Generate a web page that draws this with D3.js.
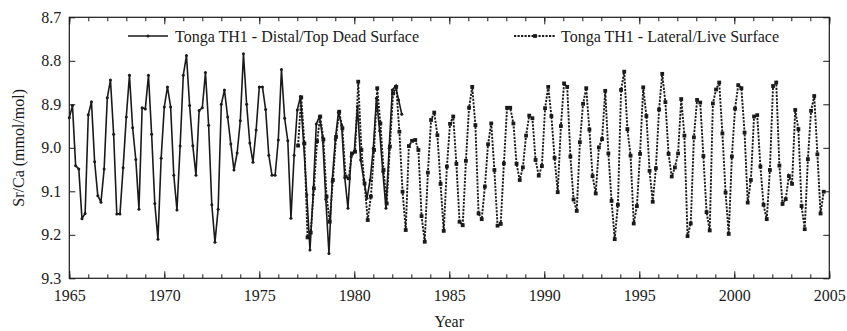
<!DOCTYPE html>
<html>
<head>
<meta charset="utf-8">
<script src="https://cdn.jsdelivr.net/npm/d3@7"></script>
<style>
  html, body { margin: 0; padding: 0; background: #fff; }
  svg { display: block; font-family: "Liberation Serif", "Times New Roman", serif; }
</style>
</head>
<body>
<svg id="chart" width="847" height="331"></svg>
<script>
// Sr/Ca time series, bimonthly samples
const sampleStep = 1 / 6;

const distalLabel = "Tonga TH1 - Distal/Top Dead Surface";
const distalStart = 1965.0;
const distalValues = [
  8.931, 8.903, 9.041, 9.049, 9.163, 9.151, 8.924, 8.894, 9.032, 9.110,
  9.125, 9.049, 8.885, 8.844, 8.969, 9.152, 9.152, 9.046, 8.929, 8.833,
  8.954, 9.027, 9.141, 8.908, 8.911, 8.833, 8.969, 9.128, 9.210, 9.024,
  8.906, 8.860, 8.906, 9.063, 9.143,
  8.996, 8.833, 8.788, 8.903, 8.995, 9.063, 8.914, 8.908, 8.827, 8.948,
  9.131, 9.217, 9.141, 8.900, 8.867, 8.929, 8.991, 9.051, 9.012, 8.938,
  8.784, 8.900, 8.989, 9.033, 8.959, 8.860, 8.860, 8.912, 9.017, 9.063,
  9.063, 8.982, 8.820, 8.932,
  8.984, 9.162, 9.017, 8.913, 8.882, 8.990, 9.108, 9.235, 9.108, 8.945,
  8.928, 8.976, 9.118, 9.243, 9.078, 8.981, 8.918, 8.948, 9.069, 9.139,
  9.020, 9.009, 8.905, 9.028, 9.074, 9.116, 9.074, 9.001, 8.886, 8.961,
  9.055, 9.139, 9.001, 8.867, 8.858, 8.890, 8.923
];

const liveLabel = "Tonga TH1 - Lateral/Live Surface";
const liveStart = 1977.04;
const liveValues = [
  8.995, 8.884, 8.990, 9.206, 9.195, 9.093, 8.985, 8.928, 8.981, 9.112,
  9.170, 9.074, 8.975, 8.917, 8.955, 9.066, 9.070, 9.013, 9.009, 8.848,
  9.005, 9.082, 9.166, 9.112, 9.005, 8.863, 8.944, 9.051, 9.128, 8.997,
  8.875, 8.860,
  8.963, 9.101, 9.189, 8.996, 8.984, 8.982, 9.005, 9.157, 9.216, 9.057,
  8.936, 8.919, 8.971, 9.083, 9.191, 9.043, 8.945, 8.928, 9.037, 9.170,
  9.178, 9.030, 8.908, 8.860, 8.948, 9.151, 9.164, 9.089, 8.992, 8.944,
  9.051, 9.179, 9.175, 9.036, 8.908,
  8.908, 8.944, 9.037, 9.074, 9.045, 8.972, 8.926, 8.932, 9.028, 9.064,
  9.042, 8.909, 8.860, 8.927, 9.023, 9.102, 8.950, 8.852, 8.860, 9.020,
  9.119, 9.145, 8.987, 8.899, 8.863, 8.958, 9.065, 9.105, 8.999, 8.980,
  8.869, 9.013, 9.122, 9.210,
  9.131, 8.867, 8.825, 8.957, 9.018, 9.174, 9.134, 9.014, 8.861, 8.927,
  9.053, 9.124, 9.047, 8.912, 8.830, 8.895, 9.014, 9.066, 9.045, 9.013,
  8.888, 8.972, 9.203, 9.174, 8.976, 8.890, 8.896, 9.019, 9.148, 9.190,
  8.898, 8.866, 8.850, 8.967, 9.103, 9.198, 9.020, 8.910, 8.856, 8.863,
  8.965, 9.126, 9.074, 8.928, 8.925, 9.043, 9.131, 9.164, 9.051, 8.858,
  8.850, 9.041, 9.129, 9.118, 9.065, 9.083, 8.913, 8.957, 9.134, 9.187,
  9.026, 8.915, 8.881, 9.015, 9.151, 9.101
];

const xTicks = [1965, 1970, 1975, 1980, 1985, 1990, 1995, 2000, 2005];
const xMinorTicks = d3.range(1965, 2006, 1);
const yTicks = [8.7, 8.8, 8.9, 9.0, 9.1, 9.2, 9.3];
const xTitle = "Year";
const yTitle = "Sr/Ca (mmol/mol)";

const ink = "#1a1a1a";
const m = { left: 69.3, right: 829.3, top: 17.3, bottom: 278.3 };

const svg = d3.select("#chart");
const x = d3.scaleLinear().domain([1965, 2005]).range([m.left, m.right]);
const y = d3.scaleLinear().domain([8.7, 9.3]).range([m.top, m.bottom]);

const toPoints = (start, vals) => vals.map((v, i) => ({ t: start + i * sampleStep, v }));
const distal = toPoints(distalStart, distalValues);
const live = toPoints(liveStart, liveValues);

// Axes: ticks point inward on all four sides
function styleAxis(g) {
  g.select(".domain").remove();
  g.selectAll(".tick line").attr("stroke", ink).attr("stroke-width", 1);
  g.selectAll(".tick text").attr("fill", ink).attr("font-size", 16)
    .attr("font-family", "Liberation Serif, Times New Roman, serif");
}

svg.append("g").attr("transform", `translate(0,${m.bottom})`)
  .call(d3.axisBottom(x).tickValues(xMinorTicks).tickSize(-4).tickFormat(""))
  .call(styleAxis);
svg.append("g").attr("transform", `translate(0,${m.top})`)
  .call(d3.axisTop(x).tickValues(xMinorTicks).tickSize(-4).tickFormat(""))
  .call(styleAxis);
svg.append("g").attr("transform", `translate(0,${m.bottom})`)
  .call(d3.axisBottom(x).tickValues(xTicks).tickSize(-7).tickPadding(11).tickFormat(d3.format("d")))
  .call(styleAxis);
svg.append("g").attr("transform", `translate(0,${m.top})`)
  .call(d3.axisTop(x).tickValues(xTicks).tickSize(-7).tickFormat(""))
  .call(styleAxis);
svg.append("g").attr("transform", `translate(${m.left},0)`)
  .call(d3.axisLeft(y).tickValues(yTicks).tickSize(-6).tickPadding(8).tickFormat(d3.format(".1f")))
  .call(styleAxis);
svg.append("g").attr("transform", `translate(${m.right},0)`)
  .call(d3.axisRight(y).tickValues(yTicks).tickSize(-6).tickFormat(""))
  .call(styleAxis);

// Plot frame
svg.append("rect")
  .attr("x", m.left).attr("y", m.top)
  .attr("width", m.right - m.left).attr("height", m.bottom - m.top)
  .attr("fill", "none").attr("stroke", ink).attr("stroke-width", 1.2);

// Axis titles
svg.append("text").attr("x", (m.left + m.right) / 2).attr("y", 327)
  .attr("text-anchor", "middle").attr("font-size", 16).attr("fill", ink).text(xTitle);
svg.append("text")
  .attr("transform", `translate(24,${(m.top + m.bottom) / 2}) rotate(-90)`)
  .attr("text-anchor", "middle").attr("font-size", 16).attr("fill", ink).text(yTitle);

const line = d3.line().x(d => x(d.t)).y(d => y(d.v));
const plot = svg.append("g");

// Lateral/live surface: dotted line with square markers
plot.append("path").datum(live).attr("d", line)
  .attr("fill", "none").attr("stroke", ink).attr("stroke-width", 1.9)
  .attr("stroke-dasharray", "2.2,1.3");
plot.selectAll("rect.live").data(live).join("rect").attr("class", "live")
  .attr("x", d => x(d.t) - 1.9).attr("y", d => y(d.v) - 1.9)
  .attr("width", 3.8).attr("height", 3.8).attr("fill", ink);

// Distal/top dead surface: solid line with dot markers
plot.append("path").datum(distal).attr("d", line)
  .attr("fill", "none").attr("stroke", ink).attr("stroke-width", 1.6)
  .attr("stroke-linejoin", "round");
plot.selectAll("circle.distal").data(distal).join("circle").attr("class", "distal")
  .attr("cx", d => x(d.t)).attr("cy", d => y(d.v)).attr("r", 1.5).attr("fill", ink);

// Legend
const leg = svg.append("g");
leg.append("line").attr("x1", 128).attr("x2", 168).attr("y1", 36).attr("y2", 36)
  .attr("stroke", ink).attr("stroke-width", 1.6);
leg.append("circle").attr("cx", 148).attr("cy", 36).attr("r", 1.5).attr("fill", ink);
leg.append("text").attr("x", 175).attr("y", 41.5).attr("font-size", 16).attr("fill", ink).text(distalLabel);

leg.append("line").attr("x1", 514).attr("x2", 556).attr("y1", 36).attr("y2", 36)
  .attr("stroke", ink).attr("stroke-width", 1.9).attr("stroke-dasharray", "2.2,1.3");
leg.append("rect").attr("x", 535 - 1.9).attr("y", 36 - 1.9).attr("width", 3.8).attr("height", 3.8).attr("fill", ink);
leg.append("text").attr("x", 561).attr("y", 41.5).attr("font-size", 16).attr("fill", ink).text(liveLabel);
</script>
</body>
</html>
